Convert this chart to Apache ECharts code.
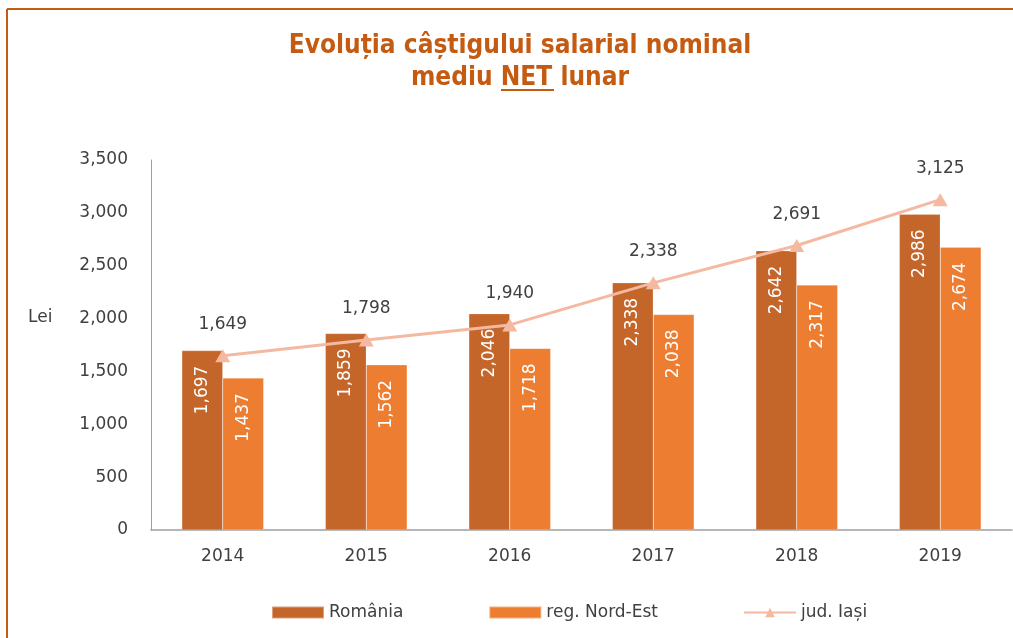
<!DOCTYPE html>
<html>
<head>
<meta charset="utf-8">
<script src="https://cdn.jsdelivr.net/npm/echarts@6/dist/echarts.min.js"></script>
<style>
  html, body { margin: 0; padding: 0; background: #fff; }
  #chart { width: 1013px; height: 638px; }
</style>
</head>
<body>
<div id="chart"></div>
<script>
// date
const years = ['2014', '2015', '2016', '2017', '2018', '2019'];
const romania = [1697, 1859, 2046, 2338, 2642, 2986];
const nordEst = [1437, 1562, 1718, 2038, 2317, 2674];
const iasi = [1649, 1798, 1940, 2338, 2691, 3125];
const yTicks = [0, 500, 1000, 1500, 2000, 2500, 3000, 3500];

const fmt = v => v.toLocaleString('en-US');
const txt = '#404040';
const font = 'DejaVu Sans';

const chart = echarts.init(document.getElementById('chart'));

chart.setOption({
  animation: false,
  backgroundColor: '#fff',
  graphic: [
    // chenarul portocaliu
    { type: 'line', shape: { x1: 7, y1: 9, x2: 1013, y2: 9 }, style: { stroke: '#C55A11', lineWidth: 2 } },
    { type: 'line', shape: { x1: 7, y1: 9, x2: 7, y2: 638 }, style: { stroke: '#C55A11', lineWidth: 2 } },
    // titlul
    {
      type: 'text', x: 520, y: 30,
      style: {
        text: 'Evoluția câștigului salarial nominal\nmediu NET lunar',
        align: 'center', verticalAlign: 'top',
        fill: '#C55A11',
        font: 'bold 26px "DejaVu Sans Condensed"',
        lineHeight: 32
      }
    },
    // subliniere NET
    { type: 'rect', shape: { x: 501, y: 89, width: 53, height: 2 }, style: { fill: '#C55A11' } },
    { type: 'text', left: 28, top: 309, style: { text: 'Lei', fill: txt, font: '17px "DejaVu Sans"' } }
  ],
  legend: {
    left: 271,
    top: 604,
    padding: 0,
    itemWidth: 52,
    itemHeight: 12,
    itemGap: 85,
    textStyle: { color: txt, fontSize: 17, fontFamily: font },
    data: [
      { name: 'România', icon: 'rect' },
      { name: 'reg. Nord-Est', icon: 'rect' },
      { name: 'jud. Iași' }
    ]
  },
  grid: { left: 151, right: 1, top: 160, bottom: 108 },
  xAxis: {
    type: 'category',
    data: years,
    axisLine: { lineStyle: { color: '#9e9e9e', width: 1.5 } },
    axisTick: { show: false },
    axisLabel: { color: txt, fontSize: 17, fontFamily: font, margin: 18 }
  },
  yAxis: {
    type: 'value',
    min: yTicks[0],
    max: yTicks[yTicks.length - 1],
    interval: 500,
    axisLine: { show: true, lineStyle: { color: '#9e9e9e', width: 1 } },
    axisTick: { show: false },
    splitLine: { show: false },
    axisLabel: { color: txt, fontSize: 17, fontFamily: font, margin: 23, formatter: fmt }
  },
  series: [
    {
      name: 'România',
      type: 'bar',
      data: romania,
      barGap: '0%',
      barCategoryGap: '43%',
      itemStyle: { color: '#C4652A', borderColor: 'rgba(255,255,255,0.4)', borderWidth: 0.5 },
      label: {
        show: true,
        position: 'insideTop',
        rotate: 90,
        align: 'right',
        verticalAlign: 'middle',
        distance: 15,
        color: '#fff',
        fontSize: 17,
        fontFamily: font,
        formatter: p => fmt(p.value)
      }
    },
    {
      name: 'reg. Nord-Est',
      type: 'bar',
      data: nordEst,
      itemStyle: { color: '#ED7D31', borderColor: 'rgba(255,255,255,0.4)', borderWidth: 0.5 },
      label: {
        show: true,
        position: 'insideTop',
        rotate: 90,
        align: 'right',
        verticalAlign: 'middle',
        distance: 15,
        color: '#fff',
        fontSize: 17,
        fontFamily: font,
        formatter: p => fmt(p.value)
      }
    },
    {
      name: 'jud. Iași',
      type: 'line',
      data: iasi,
      symbol: 'triangle',
      symbolSize: [15, 13],
      lineStyle: { color: '#F4B9A0', width: 3 },
      itemStyle: { color: '#F4B9A0' },
      label: {
        show: true,
        position: 'top',
        distance: 16,
        color: txt,
        fontSize: 17,
        fontFamily: font,
        formatter: p => fmt(p.value)
      },
      z: 5
    }
  ]
});
</script>
</body>
</html>
